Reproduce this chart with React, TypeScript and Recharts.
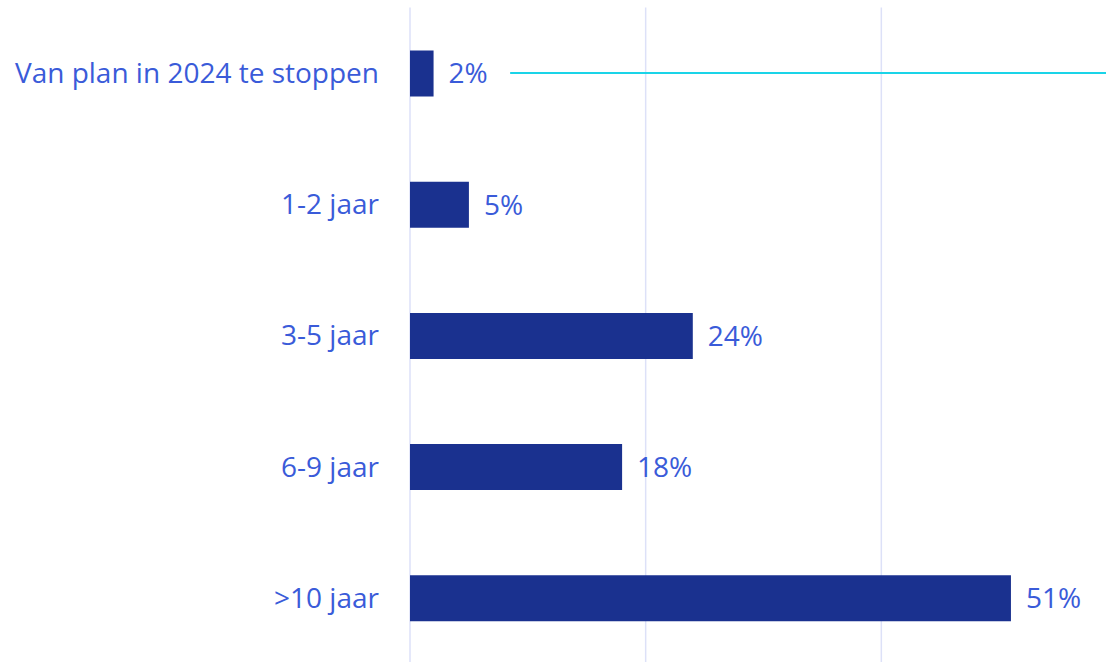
import React from "react";
import { BarChart, Bar, XAxis, YAxis, CartesianGrid, LabelList, ReferenceLine } from "recharts";

const categories = ["Van plan in 2024 te stoppen", "1-2 jaar", "3-5 jaar", "6-9 jaar", ">10 jaar"];
const values = [2, 5, 24, 18, 51];
const xTicks = [0, 20, 40, 60];
const markerStart = 8.5;

const data = categories.map((c, i) => ({ name: c, value: values[i] }));

const BAR = "#1a318f";
const TEXT = "#3a5bd9";
const GRID = "#dde1f8";
const FONT = "'Open Sans', 'Noto Sans', sans-serif";

export default function App() {
  return (
    <div style={{ position: "absolute", left: 0, top: 0, width: 1106, height: 662, overflow: "hidden", background: "#fff" }}>
      <BarChart
        width={1117}
        height={680}
        data={data}
        layout="vertical"
        margin={{ top: 7.5, right: 0, bottom: 16.5, left: 0 }}
        barCategoryGap={85}
      >
        <CartesianGrid horizontal={false} vertical={true} stroke={GRID} strokeWidth={1.5} />
        <XAxis type="number" domain={[0, 60]} ticks={xTicks} hide />
        <YAxis
          type="category"
          dataKey="name"
          width={410}
          axisLine={false}
          tickLine={false}
          tickSize={0}
          tickMargin={31}
          tick={{ fill: TEXT, fontSize: 28, fontFamily: FONT }}
        />
        <ReferenceLine
          segment={[{ x: markerStart, y: categories[0] }, { x: 60, y: categories[0] }]}
          stroke="#1ad4e8"
          strokeWidth={2}
        />
        <Bar dataKey="value" fill={BAR} barSize={46} isAnimationActive={false}>
          <LabelList
            dataKey="value"
            position="right"
            offset={15}
            formatter={(v: number) => `${v}%`}
            fill={TEXT}
            fontSize={28}
            fontFamily={FONT}
          />
        </Bar>
      </BarChart>
    </div>
  );
}
